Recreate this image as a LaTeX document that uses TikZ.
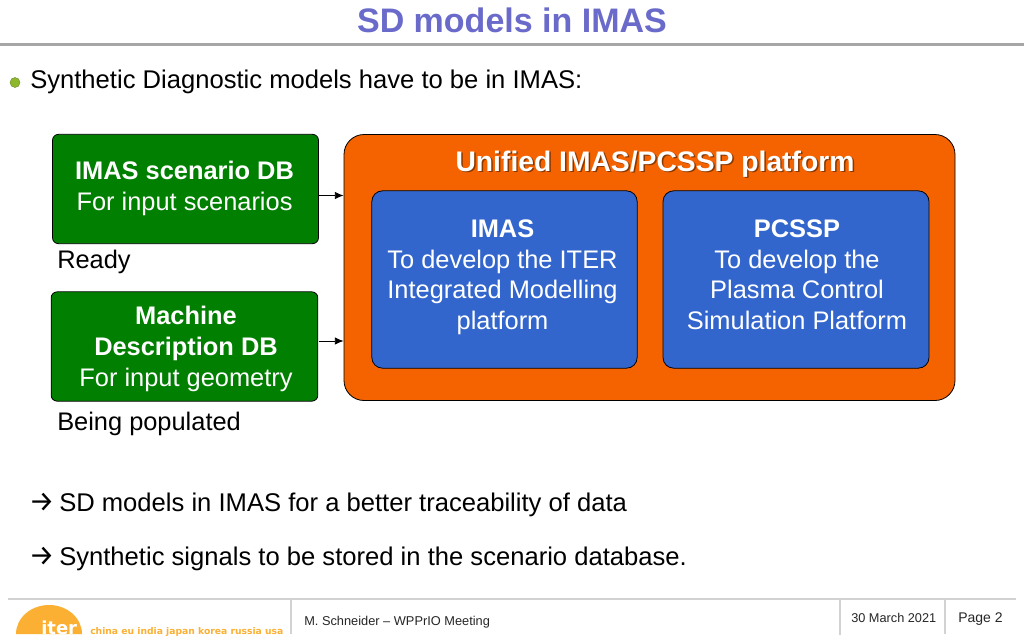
\documentclass[tikz,border=0pt]{standalone}
\usepackage{fontspec}
\setmainfont{Liberation Sans}
\newfontfamily\arrowfont{Fira Sans}
\newfontfamily\logofont{DejaVu Sans}
\usetikzlibrary{arrows.meta}
\definecolor{titleblue}{HTML}{6A6ACB}
\definecolor{boxgreen}{HTML}{007F00}
\definecolor{boxorange}{HTML}{F56300}
\definecolor{boxblue}{HTML}{3366CC}
\definecolor{rulegray}{HTML}{A6A6A6}
\definecolor{footgray}{HTML}{D2D2D2}
\definecolor{logoorange}{HTML}{FBB034}
\definecolor{bulletgreen}{HTML}{8DB82E}
\newcommand{\fsz}[1]{\fontsize{#1}{#1}\selectfont}
\newcommand{\softshadow}[1]{\rlap{\raisebox{-1.1pt}{\hspace{1.1pt}\textcolor{black!45!boxorange}{#1}}}#1}
\newcommand{\lead}{{\hspace{-1pt}\makebox[22.75pt][l]{\arrowfont\fsz{21.5}→}}}
\tikzset{
  greenbox/.style={draw=black,line width=0.6pt,fill=boxgreen,rounded corners=4.5,text=white},
  bluebox/.style={draw=black,line width=0.6pt,fill=boxblue,rounded corners=8,text=white},
  boxtext/.style={align=center,inner sep=0pt,text=white,font=\fsz{19.05}},
  plain/.style={anchor=base west,inner sep=0pt,text=black,font=\fsz{19.2}},
  foot/.style={anchor=base west,inner sep=0pt,text=black!85},
  feed/.style={-{Latex[length=6.5pt,width=5.5pt]},line width=0.6pt,black},
  footrule/.style={footgray,line width=1pt}
}
\begin{document}
\begin{tikzpicture}[x=0.75pt,y=-0.75pt]
\useasboundingbox (0,0) rectangle (1024,640);
\fill[white] (0,0) rectangle (1024,640);
% title
\node[anchor=base,inner sep=0pt,text=titleblue,font=\fsz{25.5}\bfseries] (title) at (512,32) {SD models in IMAS};
\draw[rulegray,line width=2pt] (0,44.5) -- (1024,44.5);
% bullet
\node[circle,inner sep=0pt,minimum size=7.5pt,fill=bulletgreen,draw=bulletgreen!75!black,line width=.3pt] (bullet) at (15,82.5) {};
\node[plain] (intro) at (30,88) {Synthetic Diagnostic models have to be in IMAS:};
% platform
\node[draw=black,line width=0.6pt,fill=boxorange,rounded corners=15,minimum width=458.25pt,minimum height=199.5pt,inner sep=0pt] (platform) at (649.5,267.5) {};
\node[anchor=base,inner sep=0pt,text=white,font=\fsz{21.2}\bfseries] (ptitle) at (655,171.5) {\softshadow{Unified IMAS/PCSSP platform}};
\node[bluebox,minimum width=199pt,minimum height=133pt,inner sep=0pt] (imas) at (504.5,279.5) {};
\node[bluebox,minimum width=199.5pt,minimum height=133pt,inner sep=0pt] (pcssp) at (796,279.5) {};
\node[boxtext,anchor=north] (imastext) at (502.5,219.5) {\textbf{IMAS}\\[3.95pt]To develop the ITER\\[3.95pt]Integrated Modelling\\[3.95pt]platform};
\node[boxtext,anchor=north] (pcssptext) at (797,219.5) {\textbf{PCSSP}\\[3.95pt]To develop the\\[3.95pt]Plasma Control\\[3.95pt]Simulation Platform};
% green boxes
\node[greenbox,minimum width=199.5pt,minimum height=82pt,inner sep=0pt] (scen) at (185.5,189) {};
\node[boxtext,anchor=north] (scentext) at (184.5,161) {\textbf{IMAS scenario DB}\\[3.75pt]For input scenarios};
\node[greenbox,minimum width=200pt,minimum height=82pt,inner sep=0pt] (mach) at (184.5,346.5) {};
\node[boxtext,anchor=north] (machtext) at (186,305.5) {\textbf{Machine}\\[4.3pt]\textbf{Description DB}\\[4.3pt]For input geometry};
\node[plain,font=\fsz{19.05}] (ready) at (57,268) {Ready};
\node[plain,font=\fsz{19.05}] (populated) at (57,430) {Being populated};
% connectors
\coordinate (scenout) at (319,195.5);
\coordinate (machout) at (319,341);
\draw[feed] (scenout) -- (platform.west |- scenout);
\draw[feed] (machout) -- (platform.west |- machout);
% conclusions
\node[plain] (c1) at (30,511) {\lead SD models in IMAS for a better traceability of data};
\node[plain] (c2) at (30,565) {\lead Synthetic signals to be stored in the scenario database.};
% footer
\draw[footrule] (8,599) -- (1016,599);
\draw[footrule] (291,600) -- (291,634);
\draw[footrule] (840,600) -- (840,635);
\draw[footrule] (945,600) -- (945,634);
\node[foot,font=\fsz{9.6}] (author) at (304,625) {M. Schneider – WPPrIO Meeting};
\node[foot,font=\fsz{9.55}] (date) at (851,622) {30 March 2021};
\node[foot,font=\fsz{10.5}] (page) at (958,622) {Page 2};
% logo
\fill[logoorange] (16,634) arc[start angle=180,end angle=360,x radius=33,y radius=29] -- cycle;
\node[anchor=base west,inner sep=0pt,text=white,font=\logofont\fsz{13.5}\bfseries] (iter) at (41,634) {iter};
\node[anchor=base west,inner sep=0pt,text=logoorange,font=\logofont\fsz{6.9}\bfseries] (partners) at (90,634) {china eu india japan korea russia usa};
\end{tikzpicture}
\end{document}
